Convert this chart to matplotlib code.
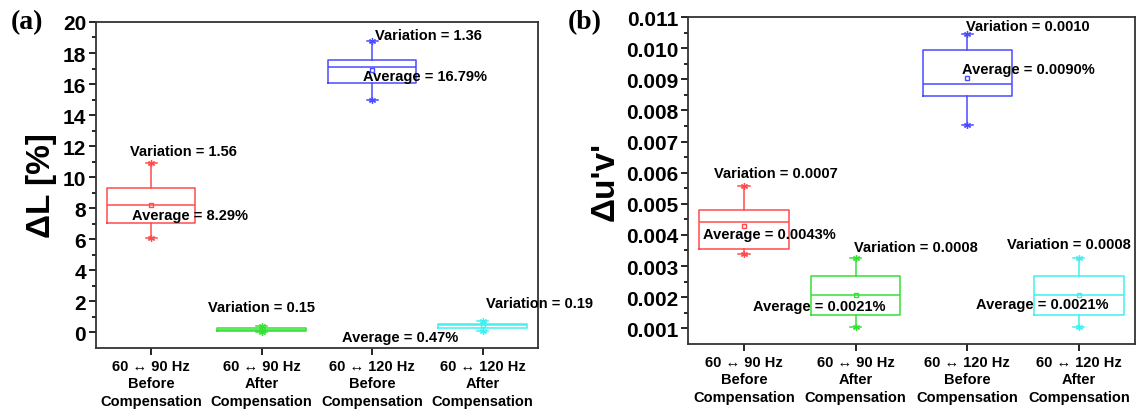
import numpy as np
import matplotlib
matplotlib.use("Agg")
import matplotlib.pyplot as plt

plt.rcParams['font.family'] = ['Liberation Sans', 'DejaVu Sans']
plt.rcParams['font.weight'] = 'bold'

labels = ["60 \u2194 90 Hz\nBefore\nCompensation", "60 \u2194 90 Hz\nAfter\nCompensation",
          "60 \u2194 120 Hz\nBefore\nCompensation", "60 \u2194 120 Hz\nAfter\nCompensation"]
colors = ['#ff4a4a', '#33e033', '#4a4aff', '#40f0f0']

# panel (a): luminance change [%]
dl_whislo = [6.10, 0.02, 14.97, 0.10]
dl_q1 = [7.05, 0.10, 16.06, 0.30]
dl_med = [8.19, 0.18, 17.07, 0.45]
dl_q3 = [9.33, 0.30, 17.57, 0.56]
dl_whishi = [10.90, 0.42, 18.75, 0.75]
dl_mean = [8.22, 0.20, 16.90, 0.47]

# panel (b): colour shift du'v'
duv_whislo = [0.00340, 0.00104, 0.00752, 0.00104]
duv_q1 = [0.00354, 0.00142, 0.00847, 0.00142]
duv_med = [0.00443, 0.00207, 0.00885, 0.00207]
duv_q3 = [0.00481, 0.00269, 0.00993, 0.00269]
duv_whishi = [0.00556, 0.00326, 0.01045, 0.00326]
duv_mean = [0.00430, 0.00207, 0.00905, 0.00207]

# annotation texts and anchors (left edge, vertical centre) in data units
ann_a = [("Variation = 1.56", 0.81, 11.68), ("Average = 8.29%", 0.83, 7.57),
         ("Variation = 0.15", 1.51, 1.61),
         ("Variation = 1.36", 3.03, 19.18), ("Average = 16.79%", 2.92, 16.52),
         ("Variation = 0.19", 4.03, 1.87), ("Average = 0.47%", 2.73, -0.32)]
ann_b = [("Variation = 0.0007", 0.73, 0.00600), ("Average = 0.0043%", 0.63, 0.00402),
         ("Variation = 0.0008", 1.99, 0.00361), ("Average = 0.0021%", 1.08, 0.00173),
         ("Variation = 0.0010", 2.99, 0.01072), ("Average = 0.0090%", 2.95, 0.00933),
         ("Variation = 0.0008", 3.36, 0.00370), ("Average = 0.0021%", 3.08, 0.00179)]


def draw_panel(ax, lo, q1, med, q3, hi, mean, ann):
    pos = np.arange(1, 5)
    for i in range(4):
        st = [dict(whislo=lo[i], q1=q1[i], med=med[i], q3=q3[i], whishi=hi[i], mean=mean[i], fliers=[])]
        c = colors[i]
        ax.bxp(st, positions=[pos[i]], widths=0.8, showmeans=True, capwidths=0.1,
               boxprops=dict(color=c, lw=1.1), whiskerprops=dict(color=c, lw=1.1),
               capprops=dict(color=c, lw=1.1), medianprops=dict(color=c, lw=1.1),
               meanprops=dict(marker='s', markerfacecolor='none', markeredgecolor=c,
                              markersize=3.5, markeredgewidth=1))
        ax.plot([pos[i], pos[i]], [lo[i], hi[i]], ls='none', marker=(6, 2, 0),
                color=c, markersize=5, mew=0.9)
    for txt, x, y in ann:
        ax.text(x, y, txt, ha='left', va='center', fontsize=10.5, fontweight='bold')
    ax.set_xlim(0.5, 4.5)
    ax.set_xticks(pos)
    ax.set_xticklabels(labels, fontsize=10.5, fontweight='bold', linespacing=1.3)
    for s in ['top', 'right', 'left', 'bottom']:
        ax.spines[s].set_color('#333333')
        ax.spines[s].set_linewidth(1.3)
    ax.tick_params(axis='y', which='major', direction='out', length=5, width=1.2,
                   labelsize=15, pad=2)
    ax.tick_params(axis='y', which='minor', direction='out', length=3, width=1.2)
    ax.tick_params(axis='x', direction='out', length=5, width=1.2, pad=3)
    for t in ax.get_yticklabels():
        t.set_fontweight('bold')


fig = plt.figure(figsize=(11.45, 4.1), dpi=100)
ax1 = fig.add_axes([0.0838, 0.149, 0.386, 0.795])
ax2 = fig.add_axes([0.601, 0.159, 0.390, 0.797])

draw_panel(ax1, dl_whislo, dl_q1, dl_med, dl_q3, dl_whishi, dl_mean, ann_a)
ax1.set_ylim(-1, 20)
ax1.set_yticks(np.arange(0, 21, 2))
ax1.set_yticks(np.arange(1, 20, 2), minor=True)
ax1.set_yticklabels([str(v) for v in range(0, 21, 2)], fontweight='bold')
ax1.set_ylabel("\u0394L [%]", fontsize=24, fontweight='bold', labelpad=4)

draw_panel(ax2, duv_whislo, duv_q1, duv_med, duv_q3, duv_whishi, duv_mean, ann_b)
ax2.set_ylim(0.0005, 0.011)
yt = np.arange(0.001, 0.0111, 0.001)
ax2.set_yticks(yt)
ax2.set_yticks(np.arange(0.0015, 0.0110, 0.001), minor=True)
ax2.set_yticklabels(["%.3f" % v for v in yt], fontweight='bold')
ax2.set_ylabel("\u0394u'v'", fontsize=24, fontweight='bold', labelpad=4)

fig.text(0.009, 0.975, "(a)", fontsize=20, fontweight='bold', family='Liberation Serif', va='top')
fig.text(0.496, 0.975, "(b)", fontsize=20, fontweight='bold', family='Liberation Serif', va='top')

fig.savefig("out.png", dpi=100)
